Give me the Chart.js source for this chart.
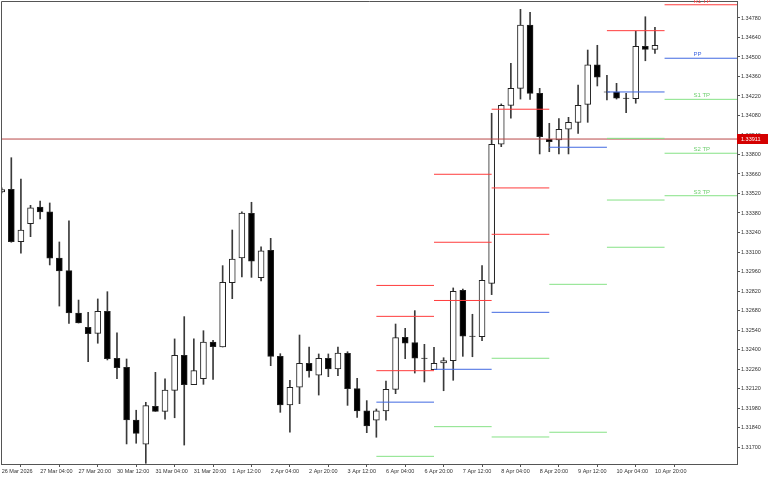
<!DOCTYPE html>
<html><head><meta charset="utf-8">
<script src="https://cdn.jsdelivr.net/npm/chart.js@4/dist/chart.umd.min.js"></script>
<style>html,body{margin:0;padding:0;background:#fff}#wrap{width:768px;height:480px}</style>
</head><body><div id="wrap"><canvas id="c" width="768" height="480"></canvas></div>
<script>
// ---- data (H4 candles, 26 Mar 12:00 .. 10 Apr 20:00) ----
const opens = [1.33531,1.33550,1.33174,1.33303,1.33423,1.33389,1.33057,1.32966,1.32662,1.32559,
  1.32516,1.32674,1.32337,1.32272,1.31894,1.31720,1.31992,1.31956,1.32107,1.32358,
  1.32147,1.32190,1.32454,1.32418,1.32880,1.33057,1.33378,1.32916,1.33112,1.32351,
  1.32002,1.32129,1.32301,1.32215,1.32337,1.32260,1.32373,1.32119,1.31959,1.31892,
  1.31959,1.32114,1.32488,1.32449,1.32338,1.32255,1.32303,1.32320,1.32825,1.32496,
  1.32492,1.32875,1.33875,1.34153,1.34275,1.34730,1.34239,1.33909,1.33904,1.33981,
  1.34031,1.34160,1.34443,1.34250,1.34249,1.34205,1.34201,1.34577,1.34555];
const highs = [1.33560,1.33777,1.33624,1.33435,1.33466,1.33452,1.33172,1.33323,1.32755,1.32667,
  1.32763,1.32815,1.32519,1.32332,1.31964,1.32021,1.32236,1.32190,1.32476,1.32636,
  1.32476,1.32535,1.32466,1.33002,1.33258,1.33389,1.33457,1.33138,1.33198,1.32370,
  1.32179,1.32504,1.32418,1.32368,1.32368,1.32418,1.32384,1.32193,1.32033,1.31973,
  1.32174,1.32583,1.32552,1.32679,1.32437,1.32416,1.32341,1.32842,1.32834,1.32653,
  1.33002,1.34096,1.34163,1.34455,1.34842,1.34821,1.34275,1.34024,1.34057,1.34067,
  1.34299,1.34550,1.34584,1.34369,1.34311,1.34239,1.34685,1.34789,1.34713];
const lows = [1.33524,1.33170,1.33091,1.33210,1.33337,1.33007,1.32712,1.32588,1.32590,1.32313,
  1.32445,1.32325,1.32190,1.31722,1.31727,1.31583,1.31956,1.31899,1.31910,1.31714,
  1.32147,1.32150,1.32186,1.32418,1.32765,1.32921,1.32918,1.32892,1.32284,1.31949,
  1.31806,1.32011,1.32201,1.32073,1.32205,1.32212,1.31999,1.31913,1.31803,1.31770,
  1.31892,1.32083,1.32334,1.32231,1.32167,1.32255,1.32104,1.32179,1.32351,1.32348,
  1.32463,1.32794,1.33856,1.34060,1.34198,1.34196,1.33804,1.33820,1.33804,1.33804,
  1.33952,1.34031,1.34292,1.34191,1.34198,1.34100,1.34168,1.34473,1.34526];
const closes = [1.33549,1.33174,1.33258,1.33418,1.33387,1.33055,1.32964,1.32662,1.32590,1.32514,
  1.32674,1.32334,1.32269,1.31894,1.31798,1.31997,1.31956,1.32109,1.32358,1.32147,
  1.32248,1.32454,1.32420,1.32883,1.33050,1.33380,1.33035,1.33109,1.32351,1.32002,
  1.32129,1.32301,1.32246,1.32337,1.32260,1.32375,1.32119,1.31959,1.31851,1.31959,
  1.32114,1.32485,1.32445,1.32337,1.32336,1.32301,1.32320,1.32818,1.32495,1.32494,
  1.32897,1.33873,1.34153,1.34275,1.34730,1.34239,1.33928,1.33892,1.33981,1.34031,
  1.34153,1.34443,1.34356,1.34248,1.34204,1.34203,1.34577,1.34555,1.34584];

const xTickLabels = ['26 Mar 2026','27 Mar 04:00','27 Mar 20:00','30 Mar 12:00','31 Mar 04:00','31 Mar 20:00',
  '1 Apr 12:00','2 Apr 04:00','2 Apr 20:00','3 Apr 12:00','6 Apr 04:00','6 Apr 20:00','7 Apr 12:00',
  '8 Apr 04:00','8 Apr 20:00','9 Apr 12:00','10 Apr 04:00','10 Apr 20:00'];
const yTickValues = [1.31700,1.31840,1.31980,1.32120,1.32260,1.32400,1.32540,1.32680,1.32820,1.32960,
  1.33100,1.33240,1.33380,1.33520,1.33660,1.33800,1.33940,1.34080,1.34220,1.34360,1.34500,1.34640,1.34780];

// daily pivot levels (bar index where each day starts; last = projected next day)
const dayStarts = [39,45,51,57,63,69];
const resistLevels = [[1.32860,1.32638,1.32248],[1.33658,1.33170,1.32752],[1.34125,1.33560,1.33227],[],[1.34689],[1.34875]];
const pivotLevels = [1.32022,1.32258,1.32667,1.33852,1.34249,1.34491];
const supportLevels = [[1.31633],[1.31846],[1.32337,1.31772],[1.32868,1.31806],[1.33916,1.33473,1.33134],[1.34196,1.33809,1.33504]];
const nextResistLabels = ['R1 TP'];
const nextPivotLabel = 'PP';
const nextSupportLabels = ['S1 TP','S2 TP','S3 TP'];
const currentPrice = 1.33911;

// ---- chart ----
const X_MIN = -0.073, X_MAX = 76.54;
const RED = '#ff3c3c', BLUE = '#4169e1', GREEN = '#86e286';
const FONT = {family: 'Liberation Sans', size: 5.5};

function segData(levelsPerDay) {
  const pts = [];
  levelsPerDay.forEach((lv, d) => {
    const arr = Array.isArray(lv) ? lv : [lv];
    const x0 = dayStarts[d];
    const x1 = d + 1 < dayStarts.length ? dayStarts[d + 1] : X_MAX;
    arr.forEach(p => { pts.push({x: x0, y: p}, {x: x1, y: p}, {x: x1, y: null}); });
  });
  return pts;
}

const idx = opens.map((_, i) => i);
const lineDs = (data, color, order) => ({type: 'line', data, borderColor: color, borderWidth: 1,
  pointRadius: 0, spanGaps: false, fill: false, order, tension: 0});

const overlay = {
  id: 'overlay',
  afterDraw(chart) {
    const {ctx, chartArea: a, scales: {x, y}} = chart;
    ctx.save();
    // frame (left & top)
    ctx.strokeStyle = '#555'; ctx.lineWidth = 1;
    ctx.beginPath();
    ctx.moveTo(a.left + 0.5, a.bottom); ctx.lineTo(a.left + 0.5, a.top + 0.5); ctx.lineTo(a.right, a.top + 0.5);
    ctx.stroke();
    // next-day level labels
    ctx.font = '6px "Liberation Sans"';
    ctx.textAlign = 'left'; ctx.textBaseline = 'alphabetic';
    const lx = x.getPixelForValue(72);
    const d = dayStarts.length - 1;
    ctx.fillStyle = RED;
    resistLevels[d].forEach((p, k) => ctx.fillText(nextResistLabels[k] || '', lx, y.getPixelForValue(p) - 2));
    ctx.fillStyle = BLUE;
    ctx.fillText(nextPivotLabel, lx, y.getPixelForValue(pivotLevels[d]) - 2);
    ctx.fillStyle = '#6fcf6f';
    supportLevels[d].forEach((p, k) => ctx.fillText(nextSupportLabels[k] || '', lx, y.getPixelForValue(p) - 2));
    // current price box
    const py = y.getPixelForValue(currentPrice);
    ctx.fillStyle = '#d40000';
    ctx.fillRect(a.right, Math.round(py) - 5, 31, 10);
    ctx.fillStyle = '#fff';
    ctx.font = '5.5px "Liberation Sans"';
    ctx.textBaseline = 'middle';
    ctx.fillText(currentPrice.toFixed(5), a.right + 4, py + 0.5);
    ctx.restore();
  }
};

new Chart(document.getElementById('c'), {
  type: 'bar',
  data: {
    datasets: [
      lineDs(segData(resistLevels), RED, 0),
      lineDs(segData(pivotLevels), BLUE, 0),
      lineDs(segData(supportLevels), GREEN, 0),
      lineDs([{x: X_MIN, y: currentPrice}, {x: X_MAX, y: currentPrice}], '#b84848', 1),
      {type: 'bar', grouped: false, order: 5, barThickness: 6,
       data: idx.map(i => ({x: i, y: [opens[i], closes[i]]})),
       backgroundColor: idx.map(i => closes[i] >= opens[i] ? '#ffffff' : '#000000'),
       borderColor: '#222', borderWidth: 1, borderSkipped: false},
      {type: 'bar', grouped: false, order: 6, barThickness: 1,
       data: idx.map(i => ({x: i, y: [lows[i], highs[i]]})),
       backgroundColor: '#3a3a3a', borderWidth: 0}
    ]
  },
  options: {
    responsive: false, animation: false, events: [],
    layout: {padding: {left: 1, top: 1, right: 0, bottom: 0}},
    plugins: {legend: {display: false}, tooltip: {enabled: false}},
    scales: {
      x: {type: 'linear', min: X_MIN, max: X_MAX, offset: false,
        afterBuildTicks: s => { s.ticks = xTickLabels.map((_, k) => ({value: k * 4})); },
        afterFit: s => { s.height = 16; s.paddingLeft = 0; s.paddingRight = 0; },
        ticks: {autoSkip: false, maxRotation: 0, minRotation: 0, align: 'start', padding: 1,
          font: FONT, color: '#333', callback: (v, i) => xTickLabels[i]},
        grid: {drawOnChartArea: false, drawTicks: true, tickLength: 3, color: '#555'},
        border: {display: true, color: '#555'}},
      y: {type: 'linear', position: 'right', min: 1.31578, max: 1.34902,
        afterBuildTicks: s => { s.ticks = yTickValues.map(v => ({value: v})); },
        afterFit: s => { s.width = 31; s.paddingTop = 0; s.paddingBottom = 0; },
        ticks: {padding: 1, font: FONT, color: '#333', callback: v => v.toFixed(5)},
        grid: {drawOnChartArea: false, drawTicks: true, tickLength: 3, color: '#555'},
        border: {display: true, color: '#555'}}
    }
  },
  plugins: [overlay]
});
</script></body></html>
